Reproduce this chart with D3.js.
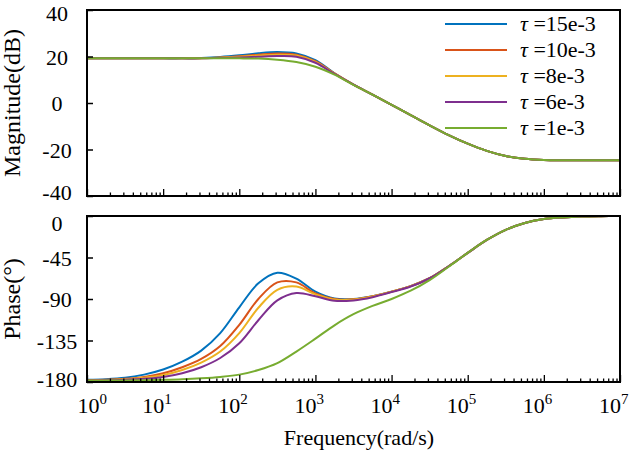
<!DOCTYPE html>
<html>
<head>
<meta charset="utf-8">
<script src="https://cdn.jsdelivr.net/npm/d3@7"></script>
<style>
  body { margin: 0; background: #fff; }
  text { font-family: "Liberation Serif", "Times New Roman", serif; fill: #000; }
</style>
</head>
<body>
<div id="chart"></div>
<script>
// frequency grid (rad/s), quarter-decade steps
const freq = [1, 1.78, 3.16, 5.62, 10, 17.8, 31.6, 56.2, 100, 178, 316, 562,
  1e3, 1780, 3160, 5620, 1e4, 17800, 31600, 56200, 1e5, 178000, 316000, 562000,
  1e6, 1.78e6, 3.16e6, 5.62e6, 1e7];

const tauLabels = ["15e-3", "10e-3", "8e-3", "6e-3", "1e-3"];
const colors = ["#0072BD", "#D95319", "#EDB120", "#7E2F8E", "#77AC30"];

// magnitude (dB)
const magTau15 = [19.2, 19.2, 19.2, 19.2, 19.2, 19.2, 19.4, 19.8, 20.5, 21.4, 21.9, 21.3, 18.4, 12.8, 7.9, 3.6, -0.8, -5.2, -9.6, -13.8, -17.5, -20.6, -22.8, -24.0, -24.5, -24.6, -24.6, -24.6, -24.6];
const magTau10 = [19.2, 19.2, 19.2, 19.2, 19.2, 19.2, 19.3, 19.6, 20.1, 20.8, 21.3, 20.8, 18.0, 12.7, 7.9, 3.6, -0.8, -5.2, -9.6, -13.8, -17.5, -20.6, -22.8, -24.0, -24.5, -24.6, -24.6, -24.6, -24.6];
const magTau8 = [19.2, 19.2, 19.2, 19.2, 19.2, 19.2, 19.3, 19.5, 19.9, 20.4, 20.8, 20.4, 17.7, 12.6, 7.9, 3.6, -0.8, -5.2, -9.6, -13.8, -17.5, -20.6, -22.8, -24.0, -24.5, -24.6, -24.6, -24.6, -24.6];
const magTau6 = [19.2, 19.2, 19.2, 19.2, 19.2, 19.2, 19.2, 19.4, 19.6, 19.9, 20.2, 19.9, 17.3, 12.5, 7.9, 3.6, -0.8, -5.2, -9.6, -13.8, -17.5, -20.6, -22.8, -24.0, -24.5, -24.6, -24.6, -24.6, -24.6];
const magTau1 = [19.2, 19.2, 19.2, 19.2, 19.2, 19.2, 19.2, 19.2, 19.2, 19.1, 18.6, 17.6, 15.6, 12.2, 7.8, 3.6, -0.8, -5.2, -9.6, -13.8, -17.5, -20.6, -22.8, -24.0, -24.5, -24.6, -24.6, -24.6, -24.6];

// phase (deg)
const phTau15 = [-177.5, -177, -175.5, -172, -166.5, -158, -146, -127, -99, -73, -61.5, -68, -82, -89.5, -90, -87, -82, -76, -67.5, -54.5, -40, -26, -15, -7.5, -3.3, -1.5, -0.6, -0.2, 0];
const phTau10 = [-178, -177.5, -176.5, -174.5, -170.5, -164, -155, -141, -118, -90, -72, -72, -84, -90, -90.3, -87, -82, -76, -67.5, -54.5, -40, -26, -15, -7.5, -3.3, -1.5, -0.6, -0.2, 0];
const phTau8 = [-178, -177.8, -177, -175.5, -172.5, -167, -159, -147, -127, -99.5, -80, -76.5, -85, -90.5, -90.6, -87.2, -82, -76, -67.5, -54.5, -40, -26, -15, -7.5, -3.3, -1.5, -0.6, -0.2, 0];
const phTau6 = [-178.5, -178.2, -177.5, -176.5, -174.5, -170.5, -164, -154, -138, -113, -91.5, -83.5, -87, -92, -91.5, -88, -82.5, -76.5, -67.5, -54.5, -40, -26, -15, -7.5, -3.3, -1.5, -0.6, -0.2, 0];
const phTau1 = [-178.5, -178.5, -178.3, -178, -177.6, -177, -176, -174.5, -172, -167, -159.5, -147, -133, -118.5, -106.5, -97.5, -90, -81, -69.5, -55, -40, -26, -15, -7.5, -3.3, -1.5, -0.6, -0.2, 0];

const magTicks = [40, 20, 0, -20, -40];
const phaseTicks = [0, -45, -90, -135, -180];
const decades = [0, 1, 2, 3, 4, 5, 6, 7];

const magSeries = [magTau15, magTau10, magTau8, magTau6, magTau1];
const phSeries = [phTau15, phTau10, phTau8, phTau6, phTau1];

const width = 630, height = 453;
const left = 87, right = 620;

const svg = d3.select("#chart").append("svg")
  .attr("width", width)
  .attr("height", height);

const x = d3.scaleLog().domain([1, 1e7]).range([left, right]);

// minor tick values 2..9 per decade
const minorTicks = [];
for (let d = 0; d < 7; d++) {
  for (let k = 2; k <= 9; k++) minorTicks.push(k * Math.pow(10, d));
}

function drawPanel(id, top, bottom, domain, ticks, series, label, nudgeTop, nudgeBottom) {
  const y = d3.scaleLinear().domain(domain).range([bottom, top]);
  const g = svg.append("g");

  g.append("clipPath").attr("id", "clip-" + id)
    .append("rect")
    .attr("x", left).attr("y", top)
    .attr("width", right - left).attr("height", bottom - top);

  const line = d3.line()
    .x((d, i) => x(freq[i]))
    .y(d => y(d))
    .curve(d3.curveCatmullRom.alpha(0.5));

  g.append("g").attr("clip-path", `url(#clip-${id})`)
    .selectAll("path")
    .data(series)
    .enter()
    .append("path")
    .attr("d", d => line(d))
    .attr("fill", "none")
    .attr("stroke", (d, i) => colors[i])
    .attr("stroke-width", 2);

  // Y axis, ticks pointing inward
  const ya = g.append("g")
    .attr("transform", `translate(${left},0)`)
    .call(d3.axisLeft(y).tickValues(ticks).tickSize(-6));
  ya.select(".domain").remove();
  ya.selectAll("line").attr("stroke", "#000").attr("stroke-width", 1.5);
  ya.selectAll("text")
    .attr("x", -30)
    .attr("y", d => d === domain[1] ? nudgeTop : d === domain[0] ? -nudgeBottom : 0)
    .attr("dy", "0.35em")
    .style("text-anchor", "middle")
    .style("font-size", "22px")
    .style("font-family", "'Liberation Serif', serif")
    .text(d => d);

  // bottom ticks (major + minor), inward
  const xa = g.append("g")
    .attr("transform", `translate(0,${bottom})`)
    .call(d3.axisBottom(x).tickValues(decades.map(p => Math.pow(10, p))).tickSize(-7).tickFormat(""));
  xa.select(".domain").remove();
  xa.selectAll("line").attr("stroke", "#000").attr("stroke-width", 1.3);
  const xm = g.append("g")
    .attr("transform", `translate(0,${bottom})`)
    .call(d3.axisBottom(x).tickValues(minorTicks).tickSize(-3.5).tickFormat(""));
  xm.select(".domain").remove();
  xm.selectAll("line").attr("stroke", "#000").attr("stroke-width", 1.3);

  // frame
  g.append("rect")
    .attr("x", left).attr("y", top)
    .attr("width", right - left).attr("height", bottom - top)
    .attr("fill", "none")
    .attr("stroke", "#000")
    .attr("stroke-width", 2);

  // Y axis label
  g.append("text")
    .attr("transform", `translate(20,${(top + bottom) / 2}) rotate(-90)`)
    .attr("text-anchor", "middle")
    .style("font-size", "24px")
    .text(label);

  return y;
}

drawPanel("mag", 10, 196, [-40, 40], magTicks, magSeries, "Magnitude(dB)", 3, 4);
drawPanel("ph", 216, 382, [-180, 0], phaseTicks, phSeries, "Phase(\u00B0)", 7, 3);

// X tick labels 10^n (label ends just right of its tick; first one kept clear of "-180")
const xl = svg.append("g").selectAll("text")
  .data(decades)
  .enter()
  .append("text")
  .attr("x", d => d === 0 ? x(1) + 20 : x(Math.pow(10, d)) + 8.5)
  .attr("y", 413)
  .attr("text-anchor", "end")
  .style("font-size", "22px");
xl.append("tspan").text("10");
xl.append("tspan")
  .attr("dy", -9)
  .style("font-size", "15px")
  .text(d => d);

// X axis label
svg.append("text")
  .attr("x", 359)
  .attr("y", 445)
  .attr("text-anchor", "middle")
  .style("font-size", "22px")
  .text("Frequency(rad/s)");

// Legend
const legend = svg.append("g").selectAll("g")
  .data(tauLabels)
  .enter()
  .append("g")
  .attr("transform", (d, i) => `translate(445,${24 + i * 26})`);
legend.append("line")
  .attr("x1", 0).attr("x2", 62)
  .attr("stroke", (d, i) => colors[i])
  .attr("stroke-width", 2);
const lt = legend.append("text")
  .attr("x", 75)
  .attr("y", 7)
  .style("font-size", "22px");
lt.append("tspan").style("font-style", "italic").text("\u03C4");
lt.append("tspan").text(d => " =" + d);
</script>
</body>
</html>
